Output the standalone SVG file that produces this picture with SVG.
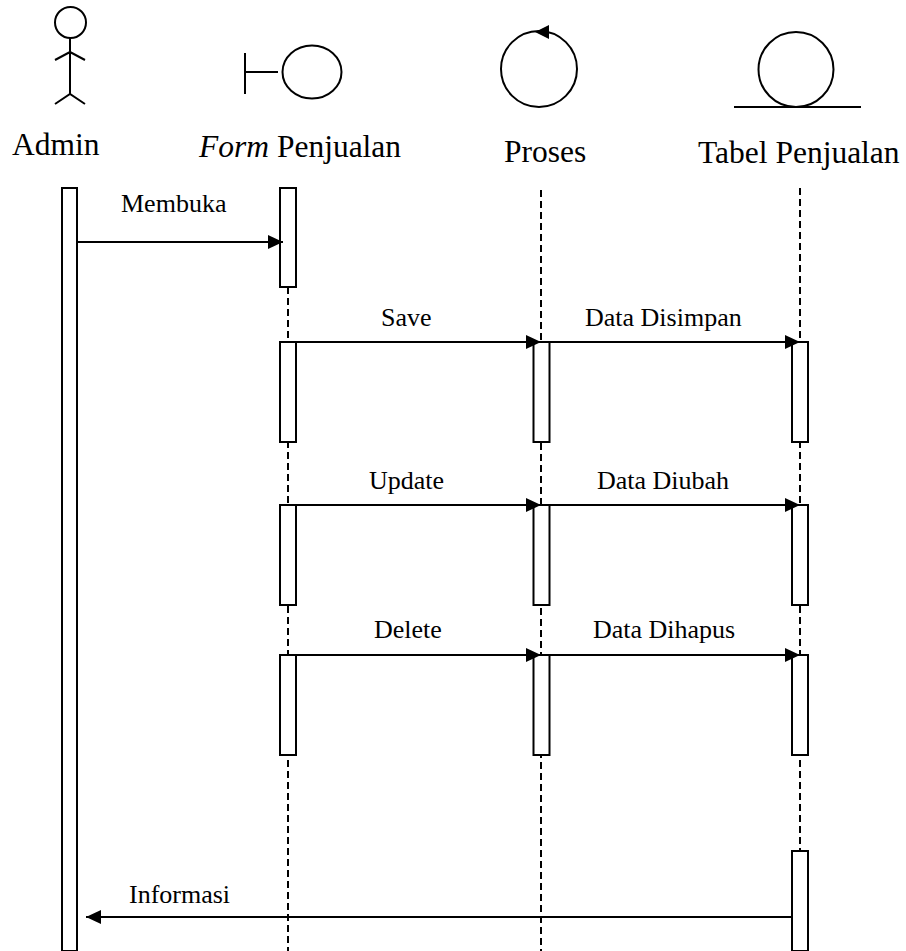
<svg xmlns="http://www.w3.org/2000/svg" width="906" height="951" viewBox="0 0 906 951">
<style>
.s{fill:none;stroke:#000;stroke-width:2}
.bar{fill:#fff;stroke:#000;stroke-width:2}
.life{stroke:#000;stroke-width:2;stroke-dasharray:7 4;fill:none}
.msg{stroke:#000;stroke-width:2;fill:none;marker-end:url(#ah)}
.h{font-family:"Liberation Serif","Times New Roman",serif;font-size:31.5px;fill:#000}
.l{font-family:"Liberation Serif","Times New Roman",serif;font-size:26px;fill:#000}
</style>
<defs>
<marker id="ah" markerUnits="userSpaceOnUse" markerWidth="15" markerHeight="14" refX="15" refY="7" orient="auto">
<path d="M0,0 L15,7 L0,14 z" fill="#000"/>
</marker>
</defs>
<rect width="906" height="951" fill="#fff"/>
<g id="admin">
<circle class="s" cx="70.5" cy="22.5" r="15.5"/>
<path class="s" d="M70,38 V94 M55,60 L70,52 L85,60 M55,104 L70,94 L85,104"/>
<text class="h" x="12" y="155">Admin</text>
</g>
<g id="form-penjualan">
<path class="s" d="M245,53 V94 M245,72 H278"/>
<ellipse class="s" cx="312" cy="72" rx="29.5" ry="26.5"/>
<text class="h" x="199" y="157"><tspan font-style="italic">Form</tspan> Penjualan</text>
</g>
<g id="proses">
<circle class="s" cx="539" cy="69" r="38"/>
<path d="M535,32 L549,25 L549,39 z" fill="#000"/>
<text class="h" x="504" y="162">Proses</text>
</g>
<g id="tabel-penjualan">
<circle class="s" cx="796" cy="69.5" r="37.5"/>
<path class="s" d="M734,107 H861"/>
<text class="h" x="698" y="163">Tabel Penjualan</text>
</g>
<g id="lifelines">
<path class="life" d="M288,287 V951"/>
<path class="life" d="M541,190 V951"/>
<path class="life" d="M800,188 V851"/>
</g>
<g id="activations">
<rect class="bar" x="62" y="188" width="15" height="763"/>
<rect class="bar" x="280" y="188" width="16" height="99"/>
<rect class="bar" x="280" y="342" width="16" height="100"/>
<rect class="bar" x="280" y="505" width="16" height="100"/>
<rect class="bar" x="280" y="655" width="16" height="100"/>
<rect class="bar" x="533.5" y="342" width="16" height="100"/>
<rect class="bar" x="533.5" y="505" width="16" height="100"/>
<rect class="bar" x="533.5" y="655" width="16" height="100"/>
<rect class="bar" x="792" y="342" width="16" height="100"/>
<rect class="bar" x="792" y="505" width="16" height="100"/>
<rect class="bar" x="792" y="655" width="16" height="100"/>
<rect class="bar" x="792" y="851" width="16" height="100"/>
</g>
<g id="connectors">
<path class="msg" d="M77,242 H283"/>
<path class="msg" d="M296,342 H541"/>
<path class="msg" d="M549.5,342 H800"/>
<path class="msg" d="M296,505 H541"/>
<path class="msg" d="M549.5,505 H800"/>
<path class="msg" d="M296,655 H541"/>
<path class="msg" d="M549.5,655 H800"/>
<path class="msg" d="M792,917 H86"/>
</g>
<g id="labels">
<text class="l" x="121" y="212">Membuka</text>
<text class="l" x="381" y="326">Save</text>
<text class="l" x="585" y="326">Data Disimpan</text>
<text class="l" x="369" y="489">Update</text>
<text class="l" x="597" y="489">Data Diubah</text>
<text class="l" x="374" y="638">Delete</text>
<text class="l" x="593" y="638">Data Dihapus</text>
<text class="l" x="129" y="903">Informasi</text>
</g>
</svg>
